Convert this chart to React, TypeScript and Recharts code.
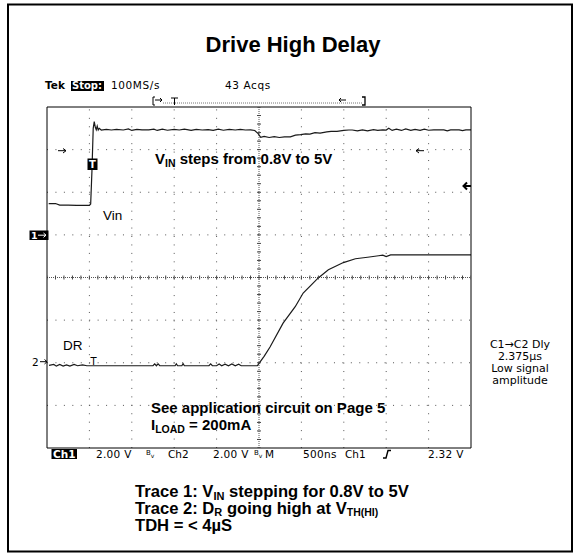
import {
  ComposedChart,
  Line,
  Scatter,
  XAxis,
  YAxis,
  ReferenceLine,
} from 'recharts'

// scope settings: 2 V/div on both channels, 500 ns/div, 10 x 8 divisions
const VOLTS_PER_DIV = 2
const CH1_OFFSET = 1 // ch1 ground marker, divisions above centre
const CH2_OFFSET = -2 // ch2 ground marker, divisions below centre

// Trace 1 (Vin): [time in ns from left edge, volts]
const vinTrace: [number, number][] = [
  [20, 1.47], [100, 1.47], [150, 1.4], [250, 1.4], [350, 1.38], [450, 1.38],
  [500, 1.38], [515, 1.45], [530, 3.0], [545, 5.0], [557, 5.31], [570, 5.05],
  [581, 4.93], [592, 5.1], [604, 4.92], [616, 5.0], [640, 4.92], [700, 4.95],
  [760, 4.92], [820, 4.95], [900, 4.92], [960, 4.97], [1000, 4.9], [1060, 4.95],
  [1120, 4.93], [1200, 4.93], [1260, 4.96], [1300, 4.9], [1360, 4.96], [1420, 4.91],
  [1500, 4.95], [1560, 4.92], [1620, 4.96], [1700, 4.9], [1760, 4.95], [1830, 4.92],
  [1900, 4.94], [1960, 4.9], [2020, 4.96], [2080, 4.91], [2150, 4.95], [2220, 4.92],
  [2280, 4.95], [2340, 4.92], [2400, 4.93], [2450, 4.9], [2490, 4.75], [2520, 4.58],
  [2560, 4.62], [2620, 4.57], [2680, 4.61], [2740, 4.57], [2800, 4.6], [2870, 4.6],
  [2930, 4.68], [2990, 4.7], [3050, 4.74], [3100, 4.73], [3160, 4.8], [3220, 4.77],
  [3300, 4.83], [3350, 4.86], [3420, 4.86], [3500, 4.9], [3560, 4.92], [3600, 4.92],
  [3660, 4.88], [3720, 4.93], [3780, 4.88], [3850, 4.94], [3900, 4.9], [3960, 4.93],
  [4000, 4.92], [4030, 5.0], [4070, 4.9], [4120, 4.96], [4180, 4.9], [4230, 4.97],
  [4290, 4.9], [4340, 4.95], [4400, 4.9], [4450, 4.96], [4500, 4.91], [4560, 4.93],
  [4620, 4.93], [4680, 4.93], [4720, 4.88], [4760, 4.93], [4860, 4.93], [4900, 4.89],
  [4940, 4.93], [5000, 4.93],
]

// Trace 2 (DR): [time in ns from left edge, volts]
const drTrace: [number, number][] = [
  [24, -0.12], [80, -0.08], [110, -0.16], [150, -0.08], [190, -0.16], [230, -0.1],
  [270, -0.16], [320, -0.08], [360, -0.14], [420, -0.1], [470, -0.14], [540, -0.14],
  [1250, -0.14], [1270, -0.05], [1290, -0.14], [1310, -0.05], [1330, -0.14],
  [1510, -0.14], [1525, -0.05], [1540, -0.14], [1590, -0.14], [1605, -0.04],
  [1620, -0.14], [1910, -0.14], [1930, -0.05], [1950, -0.14], [2000, -0.14],
  [2030, -0.06], [2060, -0.14], [2100, -0.07], [2140, -0.14], [2180, -0.06],
  [2220, -0.14], [2260, -0.07], [2290, -0.14], [2480, -0.14], [2492, -0.08],
  [2560, 0.3], [2630, 0.74], [2784, 1.86], [2927, 2.63], [3021, 3.27], [3199, 3.98],
  [3318, 4.36], [3495, 4.7], [3637, 4.88], [3780, 4.95], [3910, 5.02], [3960, 5.05],
  [4000, 4.98], [4052, 5.06], [5000, 5.06],
]

const toScreen = (trace: [number, number][], offset: number) =>
  trace.map(([t, v]) => ({ t, y: v / VOLTS_PER_DIV + offset }))

const vinData = toScreen(vinTrace, CH1_OFFSET)
const drData = toScreen(drTrace, CH2_OFFSET)

// graticule
const gridTimes = [500, 1000, 1500, 2000, 3000, 3500, 4000, 4500]
const gridDivs = [-3, -2, -1, 1, 2, 3]
const minorTimes = Array.from({ length: 51 }, (_, i) => i * 100)
const minorDivs = Array.from({ length: 41 }, (_, i) => -4 + i * 0.2)
const centreRowTicks = minorTimes.map((t) => ({ t, y: 0 }))
const centreColTicks = minorDivs.map((y) => ({ t: 2500, y }))

const SCOPE = '"DejaVu Sans", Verdana, sans-serif'
const ARIAL = '"Liberation Sans", Arial, sans-serif'
const INK = '#1a1a1a'

const vTick = (p: any) => (
  <line x1={p.cx} x2={p.cx} y1={p.cy - 2} y2={p.cy + 2} stroke="#444" />
)
const hTick = (p: any) => (
  <line x1={p.cx - 2} x2={p.cx + 2} y1={p.cy} y2={p.cy} stroke="#444" />
)

function Overlay() {
  return (
    <svg
      width={580}
      height={558}
      style={{ position: 'absolute', left: 0, top: 0, pointerEvents: 'none' }}
    >
      <rect x={8} y={4.5} width={564} height={547} fill="none" stroke="#000" strokeWidth={2} />
      <text x={293} y={52} textAnchor="middle" fontFamily={ARIAL} fontWeight="bold" fontSize={22}>
        Drive High Delay
      </text>

      {/* scope header */}
      <g fontFamily={SCOPE} fontSize={10.5}>
        <text x={45} y={89} fontWeight="bold">Tek</text>
        <rect x={71} y={81} width={33} height={10} fill="#000" />
        <text x={72} y={89} fill="#fff" fontWeight="bold" fontSize={10}>Stop:</text>
        <text x={111} y={89} letterSpacing={0.6}>100MS/s</text>
        <text x={225} y={89} letterSpacing={0.6}>43 Acqs</text>
      </g>
      <g stroke="#000" fill="none">
        <polyline points="155,97 153,97 153,105 155,105" />
        <line x1={155} y1={100} x2={162} y2={100} />
        <polyline points="160,98 162,100 160,102" />
        <line x1={163} y1={103} x2={362} y2={103} stroke="#777" strokeDasharray="1 1" />
        <line x1={171} y1={98} x2={178} y2={98} />
        <line x1={174.5} y1={98} x2={174.5} y2={105} />
        <line x1={339} y1={100} x2={346} y2={100} />
        <polyline points="341,98 339,100 341,102" />
        <polyline points="362,97 365,97 365,105 362,105" strokeWidth={1.3} />
      </g>

      {/* markers */}
      <g stroke="#000" fill="none">
        <line x1={58} y1={150.7} x2={66} y2={150.7} />
        <polyline points="63,148.5 66,150.7 63,153" />
        <line x1={416} y1={150.7} x2={424} y2={150.7} />
        <polyline points="419,148.5 416,150.7 419,153" />
        <line x1={463} y1={186} x2={471} y2={186} strokeWidth={2} />
        <polyline points="467,182.5 463.5,186 467,189.5" strokeWidth={2} />
      </g>
      <rect x={87.5} y={158.5} width={10} height={11.5} fill="#000" />
      <text x={92.5} y={168} textAnchor="middle" fill="#fff" fontFamily={SCOPE} fontWeight="bold" fontSize={10}>T</text>
      <rect x={29.5} y={230.5} width={19} height={9.5} fill="#000" />
      <text x={31} y={239} fill="#fff" fontFamily={SCOPE} fontWeight="bold" fontSize={9.5}>1</text>
      <g stroke="#fff" fill="none">
        <line x1={38} y1={235.2} x2={46} y2={235.2} />
        <polyline points="43.5,233 46,235.2 43.5,237.4" />
      </g>
      <text x={32} y={366} fontFamily={SCOPE} fontSize={10.5}>2</text>
      <g stroke="#000" fill="none">
        <line x1={40} y1={361.7} x2={47} y2={361.7} />
        <polyline points="44.5,359.5 47,361.7 44.5,364" />
      </g>
      <text x={93.5} y={365} textAnchor="middle" fontFamily={SCOPE} fontSize={10}>T</text>

      {/* plot annotations */}
      <g fontFamily={ARIAL}>
        <text x={155} y={164} fontWeight="bold" fontSize={15}>
          V<tspan fontSize={10.5} dy={3}>IN</tspan>
          <tspan dy={-3}> steps from 0.8V to 5V</tspan>
        </text>
        <text x={103} y={220} fontSize={13.5}>Vin</text>
        <text x={63} y={350} fontSize={13.5}>DR</text>
        <text x={151} y={413} fontWeight="bold" fontSize={15}>See application circuit on Page 5</text>
        <text x={151} y={430} fontWeight="bold" fontSize={15}>
          I<tspan fontSize={10.5} dy={3}>LOAD</tspan>
          <tspan dy={-3}> = 200mA</tspan>
        </text>
      </g>

      {/* status line */}
      <g fontFamily={SCOPE} fontSize={10.5}>
        <rect x={51.5} y={449} width={25.5} height={10} fill="#000" />
        <text x={53} y={458} fill="#fff" fontWeight="bold">Ch1</text>
        <text x={96} y={458} letterSpacing={0.3}>2.00 V</text>
        <text x={146} y={455} fontSize={7}>B<tspan fontSize={6} dy={3}>v</tspan></text>
        <text x={168} y={458}>Ch2</text>
        <text x={213} y={458} letterSpacing={0.3}>2.00 V</text>
        <text x={254} y={455} fontSize={7}>B<tspan fontSize={6} dy={3}>v</tspan></text>
        <text x={265} y={458}>M</text>
        <text x={303} y={458} letterSpacing={0.3}>500ns</text>
        <text x={345} y={458}>Ch1</text>
        <text x={428} y={458} letterSpacing={0.3}>2.32 V</text>
      </g>
      <polyline points="383,458 386,458 388,450.5 391,450.5" stroke="#000" strokeWidth={1.4} fill="none" />

      {/* measurement readout */}
      <g fontFamily={SCOPE} fontSize={11} textAnchor="middle">
        <text x={520} y={348}>C1→C2 Dly</text>
        <text x={520} y={360}>2.375µs</text>
        <text x={520} y={372}>Low signal</text>
        <text x={520} y={384}>amplitude</text>
      </g>

      {/* caption */}
      <g fontFamily={ARIAL} fontWeight="bold" fontSize={16.6}>
        <text x={135} y={497}>
          Trace 1: V<tspan fontSize={11} dy={2.5}>IN</tspan>
          <tspan dy={-2.5}> stepping for 0.8V to 5V</tspan>
        </text>
        <text x={135} y={513.5}>
          Trace 2: D<tspan fontSize={11} dy={2.5}>R</tspan>
          <tspan dy={-2.5}> going high at V</tspan>
          <tspan fontSize={10.5} dy={2.5}>TH(HI)</tspan>
        </text>
        <text x={135} y={530.5}>TDH = &lt; 4µS</text>
      </g>
    </svg>
  )
}

export default function App() {
  return (
    <div
      style={{
        position: 'absolute',
        left: 0,
        top: 0,
        width: 580,
        height: 558,
        background: '#fff',
      }}
    >
      <ComposedChart
        width={580}
        height={558}
        margin={{ top: 107, right: 109, bottom: 110, left: 47 }}
      >
        <XAxis
          dataKey="t"
          type="number"
          domain={[0, 5000]}
          allowDataOverflow
          ticks={minorTimes}
          interval={0}
          height={1}
          mirror
          tick={false}
          tickSize={4}
          stroke="#000"
        />
        <XAxis
          xAxisId="top"
          orientation="top"
          type="number"
          domain={[0, 5000]}
          allowDataOverflow
          ticks={minorTimes}
          interval={0}
          height={1}
          mirror
          tick={false}
          tickSize={3}
          stroke="#000"
        />
        <YAxis
          type="number"
          domain={[-4, 4]}
          allowDataOverflow
          ticks={minorDivs}
          interval={0}
          width={1}
          mirror
          tick={false}
          tickSize={3}
          stroke="#000"
        />
        <YAxis
          yAxisId="right"
          orientation="right"
          type="number"
          domain={[-4, 4]}
          allowDataOverflow
          ticks={minorDivs}
          interval={0}
          width={1}
          mirror
          tick={false}
          tickSize={3}
          stroke="#000"
        />
        {gridTimes.map((t) => (
          <ReferenceLine key={'v' + t} x={t} stroke="#555" strokeDasharray="1 7.44" />
        ))}
        {gridDivs.map((d) => (
          <ReferenceLine key={'h' + d} y={d} stroke="#555" strokeDasharray="1 7.44" />
        ))}
        <ReferenceLine y={0} stroke="#555" strokeDasharray="1 1" />
        <ReferenceLine x={2500} stroke="#555" strokeDasharray="1 1" />
        <Scatter data={centreRowTicks} dataKey="y" shape={vTick} isAnimationActive={false} />
        <Scatter data={centreColTicks} dataKey="y" shape={hTick} isAnimationActive={false} />
        <Line
          data={vinData}
          dataKey="y"
          type="linear"
          stroke={INK}
          strokeWidth={1.2}
          dot={false}
          isAnimationActive={false}
        />
        <Line
          data={drData}
          dataKey="y"
          type="linear"
          stroke={INK}
          strokeWidth={1.2}
          dot={false}
          isAnimationActive={false}
        />
      </ComposedChart>
      <Overlay />
    </div>
  )
}
